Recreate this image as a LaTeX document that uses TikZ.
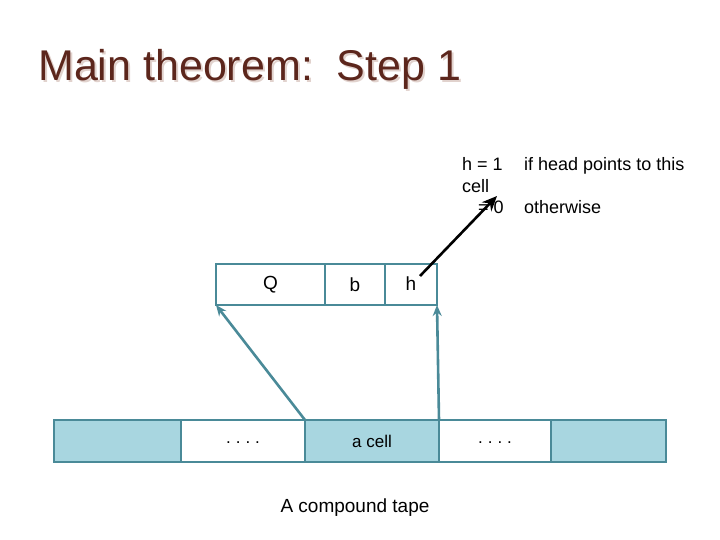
\documentclass[tikz,border=0pt]{standalone}
\usepackage{fontspec}
\setmainfont{Liberation Sans}
\usetikzlibrary{arrows.meta,positioning}
\definecolor{TitleBrown}{RGB}{92,38,28}
\definecolor{TitleShade}{RGB}{225,210,205}
\definecolor{TapeTeal}{RGB}{74,138,152}
\definecolor{TapeBlue}{RGB}{168,214,224}
\newcommand{\tapedots}{\raisebox{-4pt}{.\kern5pt.\kern5pt.\kern5pt.}}
\tikzset{
  cellbox/.style={draw=TapeTeal,line width=1.4pt,outer sep=0pt,inner sep=0pt,
    minimum height=41pt,font=\fontsize{19}{22}\selectfont},
  tapebox/.style={cellbox,minimum height=42pt,font=\fontsize{17}{20}\selectfont},
  shaded/.style={tapebox,fill=TapeBlue},
  note/.style={anchor=base west,inner sep=0pt,font=\fontsize{18}{21}\selectfont},
  headarrow/.style={-{Stealth[length=11pt,width=9pt]},line width=2.6pt,TapeTeal},
  markarrow/.style={-{Stealth[length=15pt,width=13pt]},line width=2.6pt,black}
}
\begin{document}
\begin{tikzpicture}[x=1pt,y=-1pt]
  \useasboundingbox (0,0) rectangle (720,540);
  % title
  \node[anchor=base west,inner sep=0pt,TitleShade,font=\fontsize{43}{48}\selectfont]
    at (40,83) {Main theorem:\ \ Step 1};
  \node[anchor=base west,inner sep=0pt,TitleBrown,font=\fontsize{43}{48}\selectfont]
    (title) at (38,81) {Main theorem:\ \ Step 1};
  % compound cell
  \node[cellbox,minimum width=109pt] (qcell) at (270.5,284.5) {\raisebox{-2pt}{Q}};
  \node[cellbox,minimum width=60pt,right=0pt of qcell] (bcell) {\raisebox{-2pt}{b}};
  \node[cellbox,minimum width=52pt,right=0pt of bcell] (hcell) {\raisebox{1pt}{h}};
  % the tape
  \node[shaded,minimum width=127pt] (left) at (117.5,441) {};
  \node[tapebox,minimum width=124pt,right=0pt of left] (dotsl) {\tapedots};
  \node[shaded,minimum width=134pt,right=0pt of dotsl] (acell) {a cell};
  \node[tapebox,minimum width=112pt,right=0pt of acell] (dotsr) {\tapedots};
  \node[shaded,minimum width=115pt,right=0pt of dotsr] (right) {};
  \node[font=\fontsize{19}{22}\selectfont] (caption) at (355,508) {A compound tape};
  % the head bit
  \node[note] (hone) at (462,171) {h = 1};
  \node[note] (cond1) at (524,171) {if head points to this};
  \node[note] (celltxt) at (462,193) {cell};
  \node[note] (hzero) at (478,214) {= 0};
  \node[note] (cond0) at (524,214) {otherwise};
  \coordinate (hstart) at (420,276);
  \coordinate (hend) at (497,196);
  % connectors
  \draw[headarrow] (acell.north west) -- (qcell.south west);
  \draw[headarrow] (acell.north east) -- (hcell.south east);
  \draw[markarrow] (hstart) -- (hend);
\end{tikzpicture}
\end{document}
